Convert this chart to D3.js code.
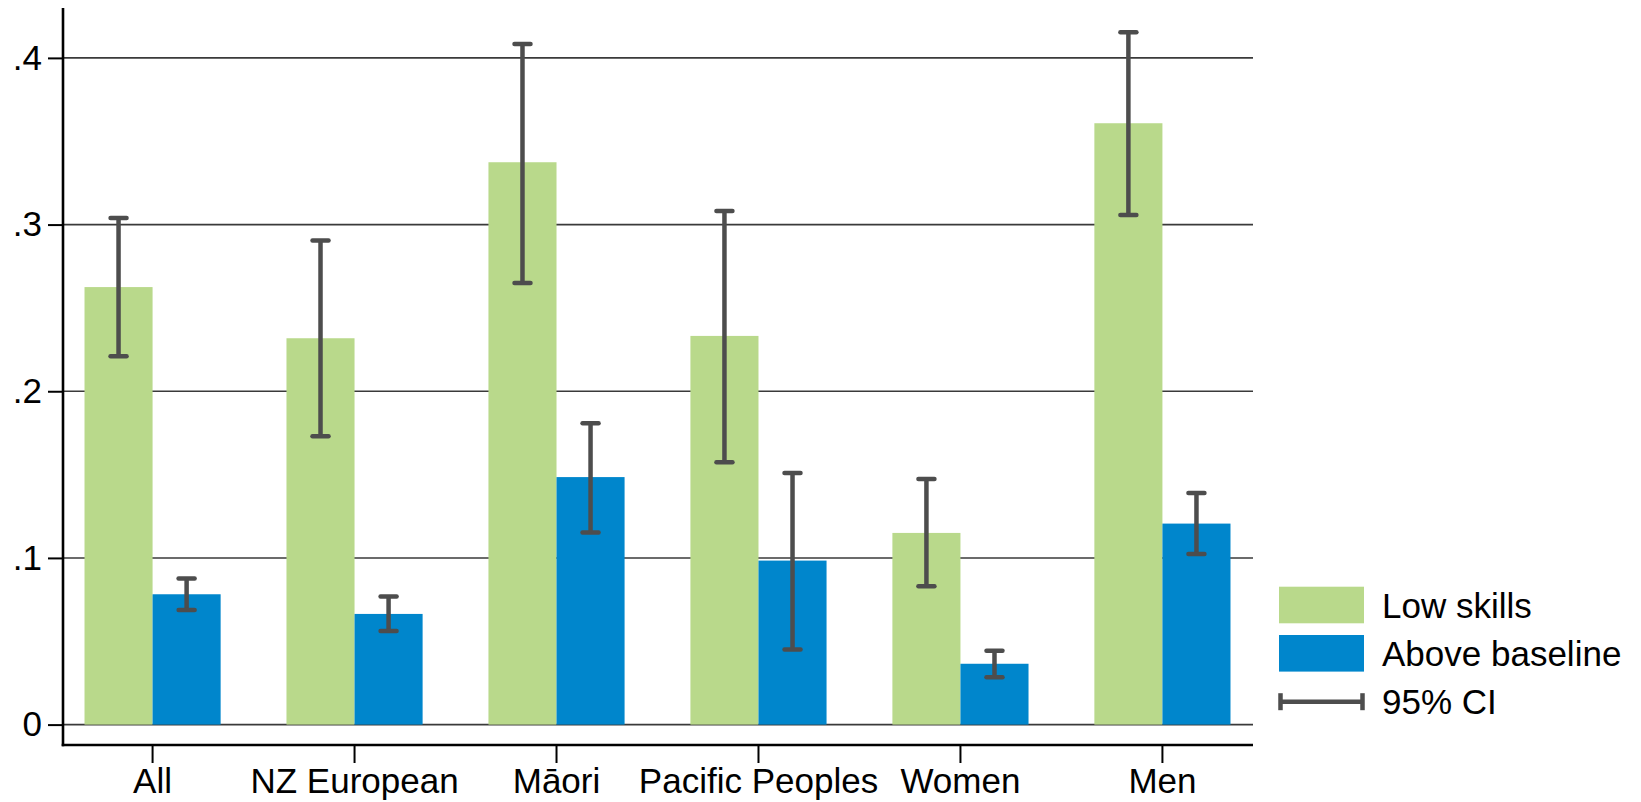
<!DOCTYPE html>
<html>
<head>
<meta charset="utf-8">
<script src="https://cdn.jsdelivr.net/npm/d3@7"></script>
<style>
  html, body { margin: 0; padding: 0; background: #fff; }
  svg { display: block; }
  text { font-family: "Liberation Sans", Arial, sans-serif; fill: #000; }
</style>
</head>
<body>
<svg id="chart" width="1641" height="802"></svg>
<script>
// ---- data ----
const categories = ["All", "NZ European", "M\u0101ori", "Pacific Peoples", "Women", "Men"];
const seriesNames = ["Low skills", "Above baseline"];
const lowSkills   = [0.2625, 0.2318, 0.3374, 0.2332, 0.1150, 0.3608];
const lowSkillsLo = [0.2210, 0.1730, 0.2650, 0.1574, 0.0830, 0.3058];
const lowSkillsHi = [0.3040, 0.2905, 0.4084, 0.3082, 0.1474, 0.4154];
const aboveBase   = [0.0782, 0.0664, 0.1485, 0.0984, 0.0365, 0.1206];
const aboveBaseLo = [0.0688, 0.0562, 0.1153, 0.0451, 0.0284, 0.1024];
const aboveBaseHi = [0.0876, 0.0769, 0.1808, 0.1509, 0.0443, 0.1390];
const yTickValues = [0, 0.1, 0.2, 0.3, 0.4];
const yTickLabels = ["0", ".1", ".2", ".3", ".4"];
const ciLabel = "95% CI";

const colors = { "Low skills": "#b9d98b", "Above baseline": "#0086cc" };
const ciColor = "#4d4d4d";

const rows = [];
categories.forEach((c, i) => {
  rows.push({ cat: c, series: seriesNames[0], v: lowSkills[i], lo: lowSkillsLo[i], hi: lowSkillsHi[i] });
  rows.push({ cat: c, series: seriesNames[1], v: aboveBase[i], lo: aboveBaseLo[i], hi: aboveBaseHi[i] });
});

// ---- layout ----
const svg = d3.select("#chart");
const plotLeft = 63, plotRight = 1253, axisTop = 8, axisBottomY = 745;

const x = d3.scaleBand().domain(categories).range([63, 1252])
  .paddingInner(0.326).paddingOuter(0.1065);
const xs = d3.scaleBand().domain(seriesNames).range([0, x.bandwidth()]).padding(0);
const y = d3.scaleLinear().domain([0, 0.4]).range([724.6, 57.9]);

// gridlines
svg.append("g").selectAll("line").data(yTickValues).join("line")
  .attr("x1", plotLeft).attr("x2", plotRight)
  .attr("y1", d => y(d)).attr("y2", d => y(d))
  .attr("stroke", "#3a3a3a").attr("stroke-width", 1.6);

// bars
svg.append("g").selectAll("rect").data(rows).join("rect")
  .attr("x", d => x(d.cat) + xs(d.series))
  .attr("width", xs.bandwidth())
  .attr("y", d => y(d.v))
  .attr("height", d => y(0) - y(d.v))
  .attr("fill", d => colors[d.series]);

// error bars
const capHalf = 8;
const eb = svg.append("g").attr("stroke", ciColor).attr("stroke-width", 4.5).attr("stroke-linecap", "round");
rows.forEach(d => {
  const cx = x(d.cat) + xs(d.series) + xs.bandwidth() / 2;
  eb.append("line").attr("x1", cx).attr("x2", cx).attr("y1", y(d.hi)).attr("y2", y(d.lo)).attr("stroke-linecap", "butt");
  eb.append("line").attr("x1", cx - capHalf).attr("x2", cx + capHalf).attr("y1", y(d.hi)).attr("y2", y(d.hi));
  eb.append("line").attr("x1", cx - capHalf).attr("x2", cx + capHalf).attr("y1", y(d.lo)).attr("y2", y(d.lo));
});

// y axis
const yAxis = d3.axisLeft(y).tickValues(yTickValues)
  .tickFormat((d, i) => yTickLabels[i]).tickSize(15).tickPadding(6);
const gy = svg.append("g").attr("transform", `translate(${plotLeft},0)`).call(yAxis);
gy.select(".domain").remove();
gy.selectAll(".tick line").attr("stroke", "#000").attr("stroke-width", 2);
gy.selectAll(".tick text").attr("font-size", 35).attr("font-family", "Liberation Sans, Arial, sans-serif").attr("fill", "#000");
svg.append("line").attr("x1", plotLeft).attr("x2", plotLeft).attr("y1", axisTop).attr("y2", axisBottomY + 1.2)
  .attr("stroke", "#000").attr("stroke-width", 2.6);

// x axis
const xAxis = d3.axisBottom(x).tickSize(18).tickPadding(5);
const gx = svg.append("g").attr("transform", `translate(0,${axisBottomY})`).call(xAxis);
gx.select(".domain").remove();
gx.selectAll(".tick line").attr("stroke", "#000").attr("stroke-width", 2);
gx.selectAll(".tick text").attr("font-size", 35).attr("font-family", "Liberation Sans, Arial, sans-serif").attr("fill", "#000");
svg.append("line").attr("x1", plotLeft - 1.3).attr("x2", plotRight).attr("y1", axisBottomY).attr("y2", axisBottomY)
  .attr("stroke", "#000").attr("stroke-width", 2.6);

// legend
const lg = svg.append("g").attr("transform", "translate(1279,0)");
const swW = 85, swH = 36.6;
const legendRows = [
  { name: seriesNames[0], cy: 605 },
  { name: seriesNames[1], cy: 653.3 }
];
legendRows.forEach(r => {
  lg.append("rect").attr("x", 0).attr("y", r.cy - swH / 2).attr("width", swW).attr("height", swH)
    .attr("fill", colors[r.name]);
  lg.append("text").attr("x", 103).attr("y", r.cy + 12.5).attr("font-size", 35).text(r.name);
});
const ciY = 701.7;
const lc = lg.append("g").attr("stroke", ciColor).attr("stroke-width", 4.5);
lc.append("line").attr("x1", 0).attr("x2", swW).attr("y1", ciY).attr("y2", ciY);
lc.append("line").attr("x1", 1.5).attr("x2", 1.5).attr("y1", ciY - 8.5).attr("y2", ciY + 8.5);
lc.append("line").attr("x1", swW - 1.5).attr("x2", swW - 1.5).attr("y1", ciY - 8.5).attr("y2", ciY + 8.5);
lg.append("text").attr("x", 103).attr("y", ciY + 12.5).attr("font-size", 35).text(ciLabel);
</script>
</body>
</html>
